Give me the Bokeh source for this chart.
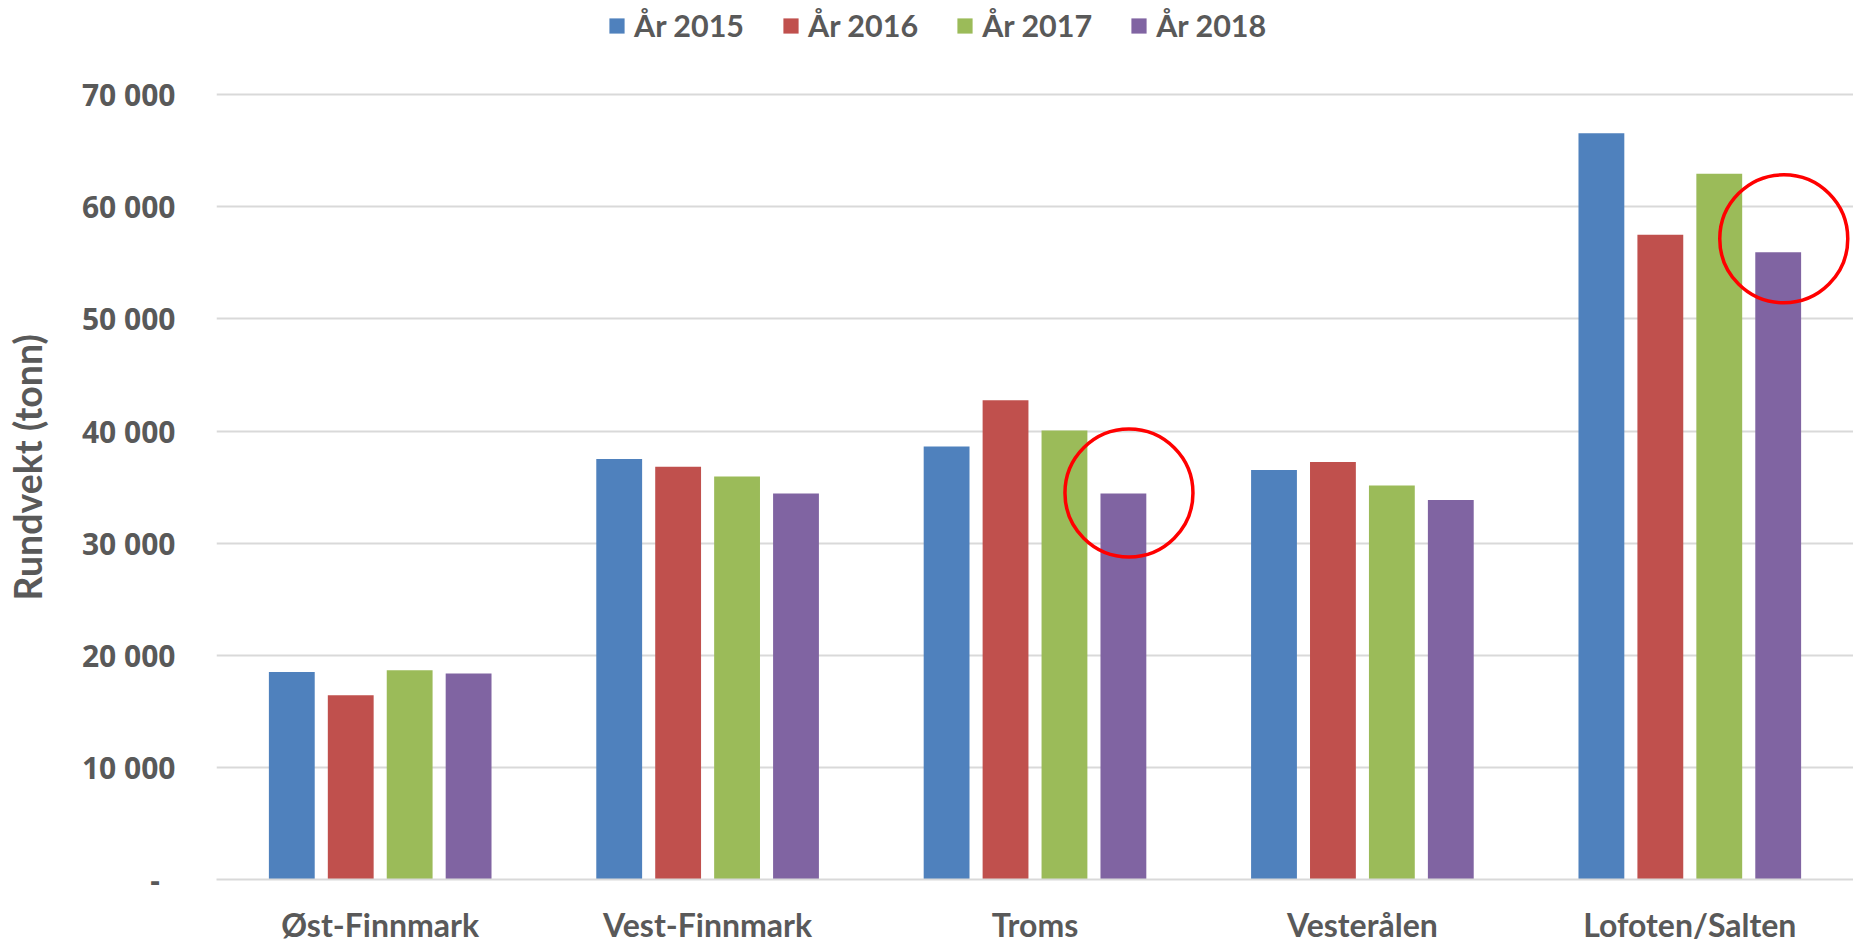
from bokeh.plotting import figure
from bokeh.models import ColumnDataSource, FactorRange, Range1d, FixedTicker, Legend, LegendItem
from bokeh.transform import dodge
from bokeh.embed import file_html
from bokeh.resources import INLINE

# ---- data ----
categories = ["Øst-Finnmark", "Vest-Finnmark", "Troms", "Vesterålen", "Lofoten/Salten"]
years = ["År 2015", "År 2016", "År 2017", "År 2018"]
y2015 = [18520, 37520, 38620, 36520, 66570]
y2016 = [16430, 36810, 42760, 37240, 57520]
y2017 = [18670, 35950, 40050, 35140, 62950]
y2018 = [18380, 34430, 34430, 33860, 55950]
y_ticks = [0, 10000, 20000, 30000, 40000, 50000, 60000, 70000]
y_tick_labels = ["-\u00a0\u00a0", "10 000", "20 000", "30 000", "40 000", "50 000", "60 000", "70 000"]
y_title = "Rundvekt (tonn)"
highlighted = ["Troms", "Lofoten/Salten"]

colors = ["#4F81BD", "#C0504D", "#9BBB59", "#8064A2"]
offsets = [-0.27, -0.09, 0.09, 0.27]
circle_lift = [50, 1200]   # small vertical nudge of each annotation ring above its bar top
text_color = "#595959"
grid_color = "#D9D9D9"

src = ColumnDataSource(dict(cat=categories, y2015=y2015, y2016=y2016, y2017=y2017, y2018=y2018))

p = figure(x_range=FactorRange(*categories, range_padding=0), y_range=Range1d(0, 78410),
           width=1853, height=946, output_backend="svg", toolbar_location=None,
           min_border_left=216, min_border_right=0, min_border_top=0, min_border_bottom=63)
p.outline_line_color = None
p.background_fill_color = "white"

renderers = []
for col, c, off in zip(["y2015", "y2016", "y2017", "y2018"], colors, offsets):
    r = p.vbar(x=dodge("cat", off, range=p.x_range), top=col, width=0.14, bottom=0,
               source=src, fill_color=c, line_color=None)
    renderers.append(r)

# highlight circles around 2018 bars
hl_vals = [y2018[categories.index(h)] for h in highlighted]
hl_src = ColumnDataSource(dict(cat=highlighted, y=[v + d for v, d in zip(hl_vals, circle_lift)]))
p.scatter(x=dodge("cat", 0.287, range=p.x_range), y="y", source=hl_src, marker="circle",
          size=128, fill_alpha=0, line_color="#FF0000", line_width=3.5)

# axes
p.yaxis.ticker = FixedTicker(ticks=y_ticks)
p.yaxis.major_label_overrides = {t: l for t, l in zip(y_ticks, y_tick_labels)}
p.yaxis.axis_line_color = None
p.yaxis.major_tick_line_color = None
p.yaxis.minor_tick_line_color = None
p.yaxis.major_tick_out = 0
p.yaxis.major_label_standoff = 41
p.yaxis.major_label_text_font = "Open Sans"
p.yaxis.major_label_text_font_style = "bold"
p.yaxis.major_label_text_font_size = "30px"
p.yaxis.major_label_text_color = text_color
# trailing no-break spaces shift the centred title down to where the reference has it
p.yaxis.axis_label = y_title + "\u00a0" * 6
p.yaxis.axis_label_text_font = "Lato"
p.yaxis.axis_label_text_font_style = "bold"
p.yaxis.axis_label_text_font_size = "37.5px"
p.yaxis.axis_label_text_color = text_color
p.yaxis.axis_label_standoff = 29

p.xaxis.axis_line_color = grid_color
p.xaxis.axis_line_width = 2
p.xaxis.major_tick_line_color = None
p.xaxis.minor_tick_line_color = None
p.xaxis.major_tick_out = 0
p.xaxis.major_label_standoff = 25
p.xaxis.major_label_text_font = "Lato"
p.xaxis.major_label_text_font_style = "bold"
p.xaxis.major_label_text_font_size = "32px"
p.xaxis.major_label_text_color = text_color

p.xgrid.grid_line_color = None
p.ygrid.ticker = FixedTicker(ticks=y_ticks)
p.ygrid.grid_line_color = grid_color
p.ygrid.grid_line_width = 2

legend = Legend(items=[LegendItem(label=y, renderers=[r]) for y, r in zip(years, renderers)],
                orientation="horizontal", location=(391, 836))
legend.glyph_width = 19
legend.glyph_height = 19
legend.label_standoff = 8
legend.spacing = 37
legend.padding = 0
legend.margin = 0
legend.border_line_color = None
legend.background_fill_alpha = 0
legend.label_text_font = "Lato"
legend.label_text_font_style = "bold"
legend.label_text_font_size = "30.5px"
legend.label_text_color = text_color
p.add_layout(legend, "center")

open("out.html", "w").write(file_html(p, INLINE))
